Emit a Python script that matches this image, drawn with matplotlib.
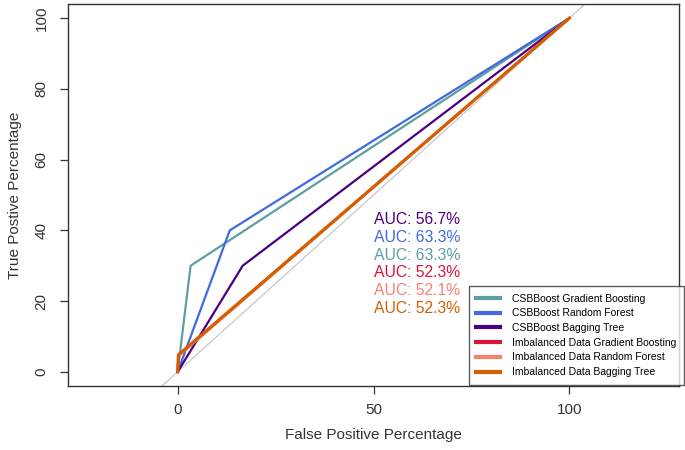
import matplotlib
matplotlib.use('Agg')
import matplotlib.pyplot as plt

plt.rcParams['font.family'] = ['Liberation Sans', 'DejaVu Sans']

# ROC points (false positive %, true positive %)
names = [
    "CSBBoost Gradient Boosting",
    "CSBBoost Random Forest",
    "CSBBoost Bagging Tree",
    "Imbalanced Data Gradient Boosting",
    "Imbalanced Data Random Forest",
    "Imbalanced Data Bagging Tree",
]
fpr = [
    [0, 3.3, 100],
    [0, 13.3, 100],
    [0, 16.6, 100],
    [0, 0.2, 100],
    [0, 0.2, 100],
    [0, 0.2, 100],
]
tpr = [
    [0, 30.0, 100],
    [0, 40.0, 100],
    [0, 30.0, 100],
    [0, 4.8, 100],
    [0, 4.4, 100],
    [0, 4.8, 100],
]
auc_labels = ["AUC: 63.3%", "AUC: 63.3%", "AUC: 56.7%",
              "AUC: 52.3%", "AUC: 52.1%", "AUC: 52.3%"]
auc_y = [33, 38, 43, 28, 23, 18]

colors = ["#5F9EA0", "#4169E1", "#4B0082", "#DC143C", "#FA8072", "#D55E00"]
widths = [1.6, 1.6, 1.6, 1.6, 1.6, 2.3]

fig = plt.figure(figsize=(6.85, 4.5), dpi=100)
ax = fig.add_axes([68 / 685, 1 - 386 / 450, (679 - 68) / 685, (386 - 4) / 450])

# chance diagonal
ax.axline((0, 0), (100, 100), color="#c8c8c8", lw=0.9, zorder=1)

for i in range(len(names)):
    ax.plot(fpr[i], tpr[i], color=colors[i], lw=widths[i], label=names[i], zorder=2 + i)

for i in range(len(names)):
    ax.text(50, auc_y[i], auc_labels[i], color=colors[i], fontsize=11.3,
            ha="left", va="center")

ax.set_xlim(-28, 128)
ax.set_ylim(-4, 104)
ax.set_xticks([0, 50, 100])
ax.set_yticks([0, 20, 40, 60, 80, 100])
ax.tick_params(colors="#333333", labelsize=11, length=6, width=0.9, pad=6)
ax.tick_params(axis="y", labelrotation=90, pad=8)
for lab in ax.get_yticklabels():
    lab.set_va("center")
for s in ax.spines.values():
    s.set_color("#333333")
    s.set_linewidth(1.0)

ax.set_xlabel("False Positive Percentage", fontsize=11, color="#333333", labelpad=8)
ax.set_ylabel("True Postive Percentage", fontsize=11, color="#333333", labelpad=9)

leg = ax.legend(loc="lower right", bbox_to_anchor=(684 / 685, 1 - 385 / 450),
                bbox_transform=fig.transFigure, borderaxespad=0, fontsize=7.5,
                frameon=True, fancybox=False, edgecolor="#333333",
                handlelength=2.3, borderpad=0.75, labelspacing=0.45,
                handletextpad=1.1)
leg.get_frame().set_linewidth(1.0)
for h in leg.get_lines():
    h.set_linewidth(3)

fig.savefig("out.png", dpi=100)
